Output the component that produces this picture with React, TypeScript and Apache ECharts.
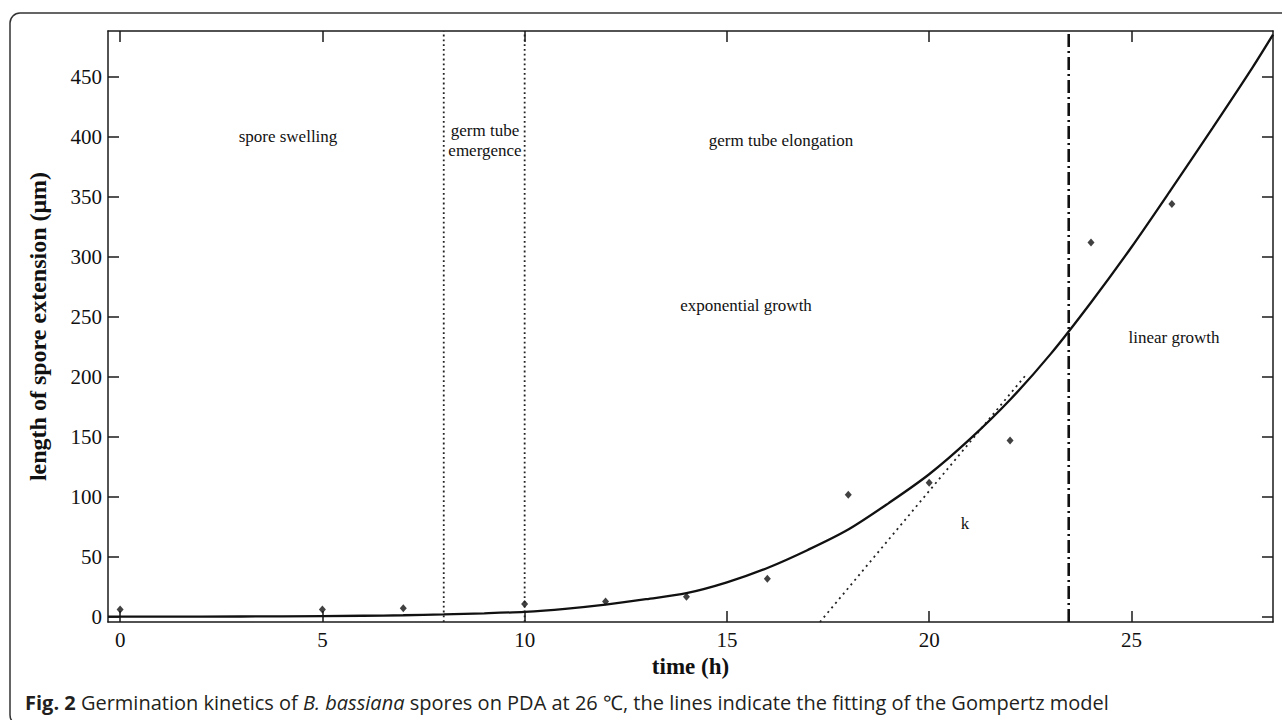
import React, { useEffect, useRef } from "react";
import * as echarts from "echarts";

// Gompertz fit curve
const fitTime = [-0.3, 2, 4, 6, 7, 8, 9, 10, 11, 12, 13, 14, 15, 16, 17, 18, 19, 20, 21, 22, 23, 24, 25, 26, 27, 28, 28.5];
const fitLength = [0.5, 0.5, 0.7, 1.2, 1.6, 2.3, 3.2, 4.5, 7, 10.5, 15, 20, 29, 41, 56, 73, 95, 119, 148, 181, 219, 262, 308, 357, 407, 458, 485];

// Observed spore extension
const obsTime = [0, 5, 7, 10, 12, 14, 16, 18, 20, 22, 24, 26];
const obsLength = [6.5, 6.5, 7.5, 11, 13, 17, 32, 102, 112, 147, 312, 344];

// Tangent (k) line
const tangentTime = [17.3, 22.4];
const tangentLength = [-4, 202];

// Phase boundaries
const phaseBounds = [8, 10];
const linearOnset = 23.45;

const xTicks = [0, 5, 10, 15, 20, 25];
const yTicks = [0, 50, 100, 150, 200, 250, 300, 350, 400, 450];
const xRange = [-0.3, 28.5];
const yRange = [-4, 488];

const SERIF = "'Liberation Serif', 'Times New Roman', serif";

export default function App() {
  const ref = useRef<HTMLDivElement>(null);
  useEffect(() => {
    if (!ref.current) return;
    const chart = echarts.init(ref.current, null, { renderer: "svg" });
    const axisLine = { show: true, onZero: false, lineStyle: { color: "#1a1a1a", width: 1.5 } };
    const tickStyle = { color: "#1a1a1a", width: 1.5 };
    const vline = (x: number) => [[x, yRange[0]], [x, yRange[1]]];
    chart.setOption({
      animation: false,
      backgroundColor: "#ffffff",
      grid: { left: 108, right: 9, top: 31, bottom: 98 },
      xAxis: [
        {
          type: "value", min: xRange[0], max: xRange[1], position: "bottom",
          axisLine,
          axisTick: { show: true, inside: true, length: 11, lineStyle: tickStyle, customValues: xTicks },
          axisLabel: { customValues: xTicks, fontFamily: SERIF, fontSize: 21, color: "#111", margin: 7 },
          splitLine: { show: false },
          name: "time (h)", nameLocation: "middle", nameGap: 30,
          nameTextStyle: { fontFamily: SERIF, fontSize: 23, fontWeight: "bold", color: "#111" },
        },
        {
          type: "value", min: xRange[0], max: xRange[1], position: "top",
          axisLine,
          axisTick: { show: true, inside: true, length: 11, lineStyle: tickStyle, customValues: xTicks },
          axisLabel: { show: false },
          splitLine: { show: false },
        },
      ],
      yAxis: [
        {
          type: "value", min: yRange[0], max: yRange[1], position: "left",
          axisLine,
          axisTick: { show: true, inside: true, length: 11, lineStyle: tickStyle, customValues: yTicks },
          axisLabel: { customValues: yTicks, fontFamily: SERIF, fontSize: 21, color: "#111", margin: 6 },
          splitLine: { show: false },
          name: "length of spore extension (μm)", nameLocation: "middle", nameGap: 58,
          nameTextStyle: { fontFamily: SERIF, fontSize: 24, fontWeight: "bold", color: "#111" },
        },
        {
          type: "value", min: yRange[0], max: yRange[1], position: "right",
          axisLine,
          axisTick: { show: true, inside: true, length: 11, lineStyle: tickStyle, customValues: yTicks },
          axisLabel: { show: false },
          splitLine: { show: false },
        },
      ],
      series: [
        {
          type: "line", name: "bound1", data: vline(phaseBounds[0]), showSymbol: false,
          lineStyle: { color: "#222", width: 1.8, type: [1.8, 3] }, silent: true,
        },
        {
          type: "line", name: "bound2", data: vline(phaseBounds[1]), showSymbol: false,
          lineStyle: { color: "#222", width: 1.8, type: [1.8, 3] }, silent: true,
        },
        {
          type: "line", name: "linear", data: vline(linearOnset), showSymbol: false,
          lineStyle: { color: "#111", width: 2.6, type: [13, 4, 2, 4] }, silent: true,
        },
        {
          type: "line", name: "tangent", data: tangentTime.map((t, i) => [t, tangentLength[i]]), showSymbol: false,
          lineStyle: { color: "#222", width: 1.8, type: [2, 4] }, silent: true,
        },
        {
          type: "line", name: "fit", data: fitTime.map((t, i) => [t, fitLength[i]]),
          showSymbol: false, smooth: 0.3,
          lineStyle: { color: "#111", width: 2.3 },
        },
        {
          type: "scatter", name: "obs", data: obsTime.map((t, i) => [t, obsLength[i]]),
          symbol: "diamond", symbolSize: [7, 8], itemStyle: { color: "#111" },
        },
      ],
      graphic: [
        {
          type: "rect", z: -1, silent: true,
          shape: { x: 10, y: 13, width: 1290, height: 712, r: 10 },
          style: { fill: "none", stroke: "#333", lineWidth: 1.5 },
        },
        { type: "text", x: 288, y: 136, style: { text: "spore swelling", font: `17px ${SERIF}`, fill: "#111", align: "center", verticalAlign: "middle" } },
        { type: "text", x: 485, y: 140, style: { text: "germ tube\nemergence", font: `17px ${SERIF}`, fill: "#111", align: "center", verticalAlign: "middle", lineHeight: 20 } },
        { type: "text", x: 781, y: 140, style: { text: "germ tube elongation", font: `17px ${SERIF}`, fill: "#111", align: "center", verticalAlign: "middle" } },
        { type: "text", x: 746, y: 305, style: { text: "exponential growth", font: `17px ${SERIF}`, fill: "#111", align: "center", verticalAlign: "middle" } },
        { type: "text", x: 1174, y: 337, style: { text: "linear growth", font: `17px ${SERIF}`, fill: "#111", align: "center", verticalAlign: "middle" } },
        { type: "text", x: 965, y: 523, style: { text: "k", font: `17px ${SERIF}`, fill: "#111", align: "center", verticalAlign: "middle" } },
        {
          type: "text", x: 25, y: 702,
          style: {
            text: "{b|Fig. 2} Germination kinetics of {i|B. bassiana} spores on PDA at 26 ℃, the lines indicate the fitting of the Gompertz model",
            font: "20px 'Open Sans', sans-serif", fill: "#231f20", align: "left", verticalAlign: "middle",
            rich: {
              b: { fontFamily: "'Open Sans', sans-serif", fontSize: 20, fontWeight: "bold", fill: "#231f20" },
              i: { fontFamily: "'Open Sans', sans-serif", fontSize: 20, fontStyle: "italic", fill: "#231f20" },
            },
          },
        },
      ],
    });
    return () => chart.dispose();
  }, []);
  return <div ref={ref} style={{ position: "absolute", left: 0, top: 0, width: 1282, height: 720 }} />;
}
